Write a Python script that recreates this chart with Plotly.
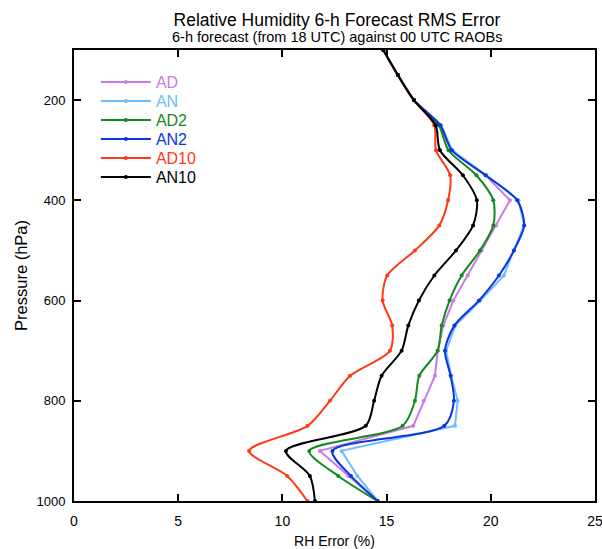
import plotly.graph_objects as go

pressure = [100, 150, 200, 250, 300, 350, 400, 450, 500, 550, 600, 650, 700, 750, 800, 850, 900, 950, 1000]

ad   = [14.84, 15.54, 16.31, 17.55, 18.10, 19.75, 20.92, 20.25, 19.56, 18.89, 18.20, 17.72, 17.45, 17.32, 16.79, 16.28, 11.80, 13.16, 14.57]
an   = [14.84, 15.54, 16.31, 17.60, 18.15, 19.78, 21.33, 21.60, 21.10, 20.63, 19.50, 18.30, 17.85, 18.10, 18.41, 18.28, 12.84, 13.60, 14.57]
ad2  = [14.84, 15.54, 16.31, 17.50, 17.97, 19.31, 20.12, 20.12, 19.48, 18.60, 18.02, 17.64, 17.45, 16.57, 16.36, 15.77, 11.29, 12.68, 14.57]
an2  = [14.84, 15.54, 16.31, 17.58, 18.13, 19.75, 21.27, 21.60, 21.11, 20.39, 19.43, 18.25, 17.80, 18.07, 18.23, 17.77, 12.40, 13.29, 14.57]
ad10 = [14.84, 15.54, 16.31, 17.29, 17.37, 18.05, 17.95, 17.53, 16.36, 15.03, 14.81, 15.27, 15.16, 13.25, 12.28, 11.21, 8.40, 10.23, 11.20]
an10 = [14.84, 15.54, 16.31, 17.35, 17.56, 18.66, 19.33, 19.15, 18.33, 17.29, 16.55, 16.04, 15.72, 14.76, 14.40, 14.00, 10.17, 11.32, 11.56]

series_names = ["AD", "AN", "AD2", "AN2", "AD10", "AN10"]
series_vals = [ad, an, ad2, an2, ad10, an10]
colors = ["#C97BE6", "#6CBEFF", "#138A1E", "#0A35E0", "#FF3A17", "#000000"]
shapes = ["linear", "linear", "spline", "spline", "spline", "spline"]

x_ticks = [0, 5, 10, 15, 20, 25]
y_ticks = [200, 400, 600, 800, 1000]

font_family = "Liberation Sans, Arial, sans-serif"

# plot area geometry (pixels) used only for placing legends
plot_top, plot_bottom = 50, 501
legend_first_center, legend_step = 82, 19

fig = go.Figure()
legend_layouts = {}
for i, (name, vals, col, shp) in enumerate(zip(series_names, series_vals, colors, shapes)):
    lname = "legend" if i == 0 else f"legend{i + 1}"
    fig.add_trace(go.Scatter(
        x=vals, y=pressure, mode="lines+markers",
        name=f'<span style="color:{col}">{name}</span>',
        line=dict(color=col, width=2, shape=shp, smoothing=0.8),
        marker=dict(color=col, size=4),
        cliponaxis=False,
        legend=lname,
    ))
    yc = legend_first_center + i * legend_step
    legend_layouts[lname] = dict(
        x=0.042, y=(plot_bottom - yc) / (plot_bottom - plot_top),
        xanchor="left", yanchor="middle",
        bgcolor="rgba(0,0,0,0)", borderwidth=0,
        font=dict(size=16, family=font_family),
        itemwidth=50,
    )

fig.update_layout(
    width=602, height=549,
    margin=dict(l=74, r=7, t=50, b=48),
    paper_bgcolor="white", plot_bgcolor="white",
    font=dict(family=font_family, color="black", size=13),
    title=dict(text="Relative Humidity 6-h Forecast RMS Error",
               x=(74 + 595) / 2 / 602 + 0.004, xanchor="center",
               y=1 - 20 / 549, yanchor="middle", yref="container",
               font=dict(size=17.5, family=font_family, color="black")),
    showlegend=True,
    annotations=[dict(text="6-h forecast (from 18 UTC) against 00 UTC RAOBs",
                      x=0.505, xref="paper", y=1, yref="paper",
                      xanchor="center", yanchor="bottom", yshift=3,
                      showarrow=False, font=dict(size=14.5, family=font_family))],
    **legend_layouts,
)

fig.update_xaxes(range=[0, 25], tickvals=x_ticks, ticktext=[str(v) for v in x_ticks],
                 ticks="inside", ticklen=7, tickwidth=2, tickcolor="black",
                 showline=True, linewidth=2, linecolor="black", mirror="ticks",
                 showgrid=False, zeroline=False, automargin=False,
                 ticklabelstandoff=6, ticklabeloverflow="allow",
                 title=dict(text="RH Error (%)", font=dict(size=14), standoff=8),
                 tickfont=dict(size=14))
fig.update_yaxes(range=[1000, 100], tickvals=y_ticks, ticktext=[str(v) for v in y_ticks],
                 ticks="inside", ticklen=7, tickwidth=2, tickcolor="black",
                 showline=True, linewidth=2, linecolor="black", mirror="ticks",
                 showgrid=False, zeroline=False, automargin=False,
                 ticklabelstandoff=4, ticklabeloverflow="allow",
                 title=dict(text="Pressure (hPa)", font=dict(size=16.5), standoff=5),
                 tickfont=dict(size=13))

fig.write_html("out.html")
